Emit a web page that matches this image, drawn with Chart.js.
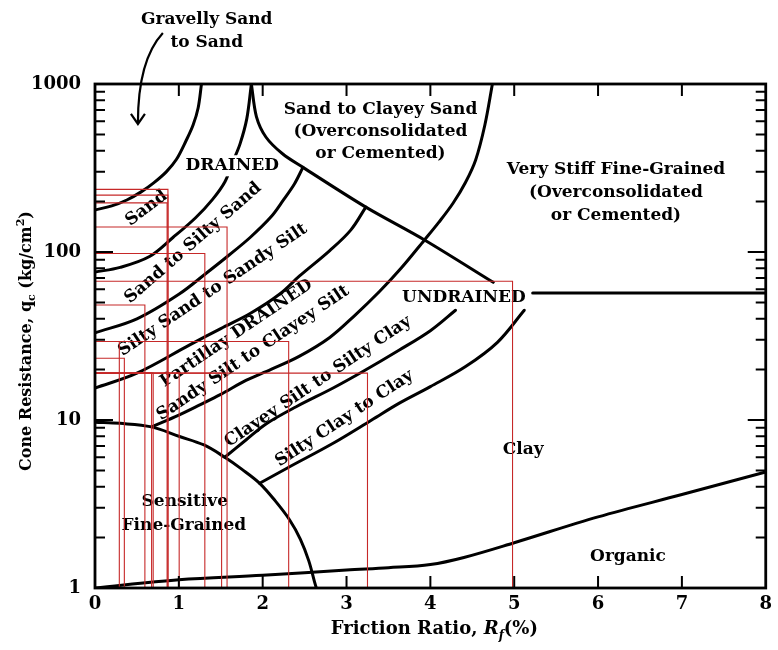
<!DOCTYPE html>
<html><head><meta charset="utf-8">
<script src="https://cdn.jsdelivr.net/npm/chart.js@4.4.1/dist/chart.umd.min.js"></script>
<style>html,body{margin:0;padding:0;background:#fff;}canvas{display:block;}</style>
</head><body>
<canvas id="c" width="778" height="650"></canvas>
<script>
// ---------------- data (Friction ratio Rf in %, cone resistance qc in kg/cm2) ----------------
const xTickValues = [0,1,2,3,4,5,6,7,8];
const yTickValues = [1,10,100,1000];

// zone boundaries
const gravelSandRf = [0, 0.2, 0.38, 0.55, 0.7, 0.85, 0.97, 1.09, 1.17, 1.23, 1.27];
const gravelSandQc = [178, 188, 204, 228, 258, 300, 355, 464, 570, 720, 1000];

const sandRf = [0, 0.3, 0.65, 0.93, 1.2, 1.4, 1.55, 1.65, 1.73, 1.81, 1.865];
const sandQc = [76, 81, 94, 122, 160, 205, 262, 350, 440, 620, 1000];

const drainedLimitRf = [1.865, 1.925, 2.04, 2.24, 2.48, 3.23, 3.93, 4.75];
const drainedLimitQc = [1000, 640, 482, 383, 319, 185, 118, 66];

const siltySandRf = [0, 0.5, 1.0, 1.33, 1.6, 1.85, 2.1, 2.25, 2.38, 2.48];
const siltySandQc = [33, 40, 56, 75, 96, 122, 162, 205, 255, 319];

const sandySiltRf = [0, 0.5, 1.13, 1.5, 1.85, 2.2, 2.44, 2.8, 3.05, 3.23];
const sandySiltQc = [15.5, 19, 28, 35, 43, 56, 72, 102, 135, 185];

const clayeySiltRf = [0.675, 1.0, 1.25, 1.5, 1.8, 2.1, 2.44, 2.8, 3.1, 3.39, 3.65, 3.93, 4.1, 4.27, 4.42, 4.54, 4.65, 4.74];
const clayeySiltQc = [9.1, 10.7, 12.3, 14.2, 17.2, 20, 24, 31, 42, 58, 80, 118, 150, 195, 260, 353, 570, 1000];

const siltyClayRf = [1.548, 1.8, 2.044, 2.4, 2.84, 3.2, 3.63, 4.0, 4.3];
const siltyClayQc = [6.0, 7.6, 9.5, 12.0, 15.5, 19.5, 26.1, 34, 45];

const clayRf = [1.964, 2.3, 2.84, 3.3, 3.63, 4.0, 4.42, 4.8, 5.12];
const clayQc = [4.2, 5.2, 7.27, 10.0, 12.6, 15.8, 20.8, 29, 45];

const sensitiveRf = [0, 0.3, 0.675, 1.0, 1.3, 1.548, 1.75, 1.964, 2.15, 2.32, 2.45, 2.55, 2.62, 2.64];
const sensitiveQc = [9.7, 9.55, 9.1, 8.0, 7.1, 6.0, 5.1, 4.2, 3.3, 2.55, 1.95, 1.45, 1.08, 1.0];

const organicRf = [0, 1, 2, 3, 3.5, 4, 4.4, 5, 6, 7, 8];
const organicQc = [1.0, 1.12, 1.19, 1.28, 1.32, 1.38, 1.52, 1.86, 2.65, 3.6, 4.9];

const undrainedRf = [5.22, 8];
const undrainedQc = [57, 57];

// measured points (red guide lines)
const pointRf = [0.87, 0.87, 0.86, 1.575, 1.31, 4.98, 0.595, 2.31, 0.29, 0.35, 3.25, 0.694, 0.675, 1.004, 1.51];
const pointQc = [236, 218, 196, 141, 98, 67, 48.4, 29.3, 29.3, 23.3, 19.0, 19.0, 19.0, 19.0, 19.0];

// zone labels
const zoneText = ['Gravelly Sand','to Sand','Sand to Clayey Sand','(Overconsolidated','or Cemented)',
  'Very Stiff Fine-Grained','(Overconsolidated','or Cemented)','DRAINED','UNDRAINED','Clay','Organic',
  'Sensitive','Fine-Grained','Sand','Sand to Silty Sand','Silty Sand to Sandy Silt','Partillay DRAINED',
  'Sandy Silt to Clayey Silt','Clayey Silt to Silty Clay','Silty Clay to Clay'];
const zoneRf = [1.333,1.333,3.405,3.405,3.405,6.214,6.214,6.214,1.637,4.40,5.107,6.357,1.071,1.06,
  0.615,1.17,1.405,1.687,1.885,2.659,2.976];
const zoneQc = [2404,1754,700,518,383,307.6,224.5,163.8,326,53.5,6.63,1.53,3.26,2.34,
  182,113,59.4,32.8,25,16.9,10.2];

// arrow from "Gravelly Sand to Sand" label (start, control, end)
const arrowRf = [0.8095, 0.512, 0.512];
const arrowQc = [2012, 1389, 586];

// ---------------- styling ----------------
const FONT = '"DejaVu Serif", "Liberation Serif", serif';
const zoneAngle = [0,0,0,0,0,0,0,0,0,0,0,0,0,0,-37,-41,-34,-34,-34,-34,-33.5];
const zoneBg = zoneText.map((t,i)=> i===8 || i===9);

function pts(xs, qs){ return xs.map((v,i)=>({x:v, y:qs[i]})); }
function blackLine(xs, qs, tension){
  return { data: pts(xs,qs), showLine:true, borderColor:'#000', borderWidth:3, pointRadius:0,
    fill:false, tension: tension, borderCapStyle:'round', borderJoinStyle:'round' };
}
const redSets = pointRf.map((rf,i)=>({
  data:[{x:0,y:pointQc[i]},{x:rf,y:pointQc[i]},{x:rf,y:1}],
  showLine:true, borderColor:'#c62828', borderWidth:1.1, pointRadius:0, tension:0, fill:false
}));
const blackSets = [
  blackLine(gravelSandRf, gravelSandQc, 0.35),
  blackLine(sandRf, sandQc, 0.35),
  blackLine(drainedLimitRf, drainedLimitQc, 0.3),
  blackLine(siltySandRf, siltySandQc, 0.35),
  blackLine(sandySiltRf, sandySiltQc, 0.35),
  blackLine(clayeySiltRf, clayeySiltQc, 0.35),
  blackLine(siltyClayRf, siltyClayQc, 0.35),
  blackLine(clayRf, clayQc, 0.35),
  blackLine(sensitiveRf, sensitiveQc, 0.35),
  blackLine(organicRf, organicQc, 0.35),
  blackLine(undrainedRf, undrainedQc, 0)
];
const FIRST_BLACK = redSets.length;

function drawText(ctx, text, px, py, angle, size, bg){
  ctx.save();
  ctx.translate(px, py);
  ctx.rotate(angle*Math.PI/180);
  ctx.font = 'bold ' + size + 'px ' + FONT;
  ctx.textAlign = 'center'; ctx.textBaseline = 'middle';
  if (bg){
    const w = ctx.measureText(text).width;
    ctx.fillStyle = '#fff';
    ctx.fillRect(-w/2-3, -size*0.62, w+6, size*1.24);
  }
  ctx.fillStyle = '#000';
  ctx.fillText(text, 0, 0);
  ctx.restore();
}

const annotPlugin = {
  id:'annot',
  afterDatasetDraw(chart, args){
    if (args.index !== FIRST_BLACK) return;
    const {ctx, scales:{x, y}} = chart;
    ctx.save();
    zoneText.forEach((t,i)=>{
      drawText(ctx, t, x.getPixelForValue(zoneRf[i]), y.getPixelForValue(zoneQc[i]), zoneAngle[i], 17, zoneBg[i]);
    });
    const p = arrowRf.map((r,i)=>[x.getPixelForValue(r), y.getPixelForValue(arrowQc[i])]);
    ctx.strokeStyle = '#000'; ctx.lineWidth = 2.2;
    ctx.beginPath();
    ctx.moveTo(p[0][0], p[0][1]);
    ctx.quadraticCurveTo(p[1][0], p[1][1], p[2][0], p[2][1]);
    ctx.stroke();
    ctx.beginPath();
    ctx.moveTo(p[2][0]-7, p[2][1]-9);
    ctx.lineTo(p[2][0], p[2][1]+1);
    ctx.lineTo(p[2][0]+7, p[2][1]-9);
    ctx.stroke();
    ctx.restore();
  }
};

function drawRuns(ctx, runs, startX, baseY){
  let cx = startX;
  runs.forEach(r=>{
    ctx.font = r.f;
    ctx.fillText(r.t, cx, baseY + (r.dy||0));
    cx += ctx.measureText(r.t).width;
  });
}
function runsWidth(ctx, runs){
  let w = 0;
  runs.forEach(r=>{ ctx.font = r.f; w += ctx.measureText(r.t).width; });
  return w;
}

const framePlugin = {
  id:'frame',
  afterDraw(chart){
    const {ctx, chartArea:a, scales:{x, y}} = chart;
    ctx.save();
    ctx.strokeStyle = '#000';
    ctx.lineWidth = 2;
    ctx.beginPath();
    xTickValues.forEach(v=>{
      if (v===0 || v===8) return;
      const px = x.getPixelForValue(v);
      ctx.moveTo(px, a.bottom); ctx.lineTo(px, a.bottom-12);
      ctx.moveTo(px, a.top); ctx.lineTo(px, a.top+12);
    });
    for (let d=1; d<1000; d*=10){
      for (let m=1; m<10; m++){
        const v = d*m;
        if (v===1) continue;
        const py = y.getPixelForValue(v);
        const len = (m===1) ? 18 : 10;
        ctx.moveTo(a.left, py); ctx.lineTo(a.left+len, py);
        ctx.moveTo(a.right, py); ctx.lineTo(a.right-len, py);
      }
    }
    ctx.stroke();
    ctx.lineWidth = 2.8;
    ctx.strokeRect(a.left, a.top, a.right-a.left, a.bottom-a.top);

    ctx.fillStyle = '#000';
    ctx.textBaseline = 'alphabetic';
    const b = 'bold 18px ' + FONT, bi = 'italic bold 18px ' + FONT, bs = 'italic bold 12px ' + FONT;
    const xr = [{t:'Friction Ratio, ', f:b},{t:'R', f:bi},{t:'f', f:bs, dy:5},{t:'(%)', f:b}];
    const xw = runsWidth(ctx, xr);
    drawRuns(ctx, xr, (a.left+a.right)/2 - xw/2 + 4, a.bottom + 46);

    const b2 = 'bold 16px ' + FONT, s2 = 'bold 11px ' + FONT;
    const yr = [{t:'Cone Resistance, q', f:b2},{t:'c', f:s2, dy:4},{t:' (kg/cm', f:b2},{t:'2', f:s2, dy:-7},{t:')', f:b2}];
    const yw = runsWidth(ctx, yr);
    ctx.translate(a.left - 64, (a.top+a.bottom)/2 + 5);
    ctx.rotate(-Math.PI/2);
    drawRuns(ctx, yr, -yw/2, 0);
    ctx.restore();
  }
};

new Chart(document.getElementById('c'), {
  type:'scatter',
  data:{ datasets: redSets.concat(blackSets) },
  options:{
    responsive:false, animation:false, events:[],
    layout:{ padding:{ top:84, right:10, left:0, bottom:0 } },
    plugins:{ legend:{display:false}, tooltip:{enabled:false} },
    elements:{ point:{ radius:0 } },
    scales:{
      x:{
        type:'linear', min:0, max:8,
        afterBuildTicks: s => { s.ticks = xTickValues.map(v=>({value:v})); },
        ticks:{ color:'#000', padding:6, font:{family:FONT, size:18, weight:'bold'}, maxRotation:0 },
        grid:{ display:false, drawTicks:false },
        border:{ display:false },
        afterFit: s => { s.height = 62; }
      },
      y:{
        type:'logarithmic', min:1, max:1000,
        afterBuildTicks: s => { s.ticks = yTickValues.map(v=>({value:v})); },
        ticks:{ color:'#000', padding:14, font:{family:FONT, size:18, weight:'bold'},
          callback: v => String(v) },
        grid:{ display:false, drawTicks:false },
        border:{ display:false },
        afterFit: s => { s.width = 95; }
      }
    }
  },
  plugins:[annotPlugin, framePlugin]
});
</script>
</body></html>
